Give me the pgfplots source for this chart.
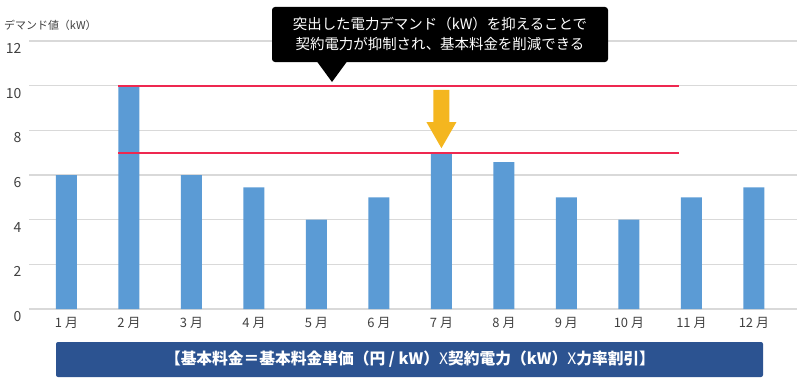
\documentclass[border=0pt]{standalone}
\usepackage{pgfplots}
\pgfplotsset{compat=1.18}
\usepackage{fontspec}
\setmainfont{Noto Sans CJK JP}
\definecolor{barblue}{HTML}{5B9BD5}
\definecolor{limitred}{HTML}{EE2850}
\definecolor{gold}{HTML}{F4B61F}
\definecolor{darkblue}{HTML}{2C5391}
\definecolor{gridgray}{HTML}{D9D9D9}
\definecolor{labelgray}{HTML}{404040}
\begin{document}
\begin{tikzpicture}[x=1bp,y=1bp]
\useasboundingbox (0,0) rectangle (805,388);
\begin{axis}[
  at={(29bp,79bp)}, anchor=south west,
  scale only axis, width=768bp, height=268bp,
  xmin=0.4, xmax=12.69, ymin=0, ymax=12,
  ytick={0,2,4,6,8,10,12},
  extra y ticks={0,2,4,6,8,12},
  extra y tick labels={},
  extra y tick style={ymajorgrids=true, grid style={color=gridgray, line width=1.2pt}},
  xtick={1,2,3,4,5,6,7,8,9,10,11,12},
  xticklabels={1 月,2 月,3 月,4 月,5 月,6 月,7 月,8 月,9 月,10 月,11 月,12 月},
  axis line style={draw=none},
  ymajorgrids=false,
  major tick length=0pt,
  /pgf/number format/assume math mode=true,
  yticklabel style={font=\fontsize{14}{16}\selectfont, text=labelgray, anchor=east, xshift=-4bp, yshift=-7.5bp},
  xticklabel style={font=\fontsize{13}{15}\selectfont, text=labelgray, anchor=center, yshift=-14bp},
  clip=false,
]
\addplot[draw=gridgray, line width=1.2pt, mark=none] coordinates {(0.4,10) (1.83,10)};
\addplot[draw=gridgray, line width=1.2pt, mark=none] coordinates {(10.8,10) (12.69,10)};
\addplot[ybar, bar width=21bp, fill=barblue, draw=none] coordinates {
(1,6) (2,10) (3,6) (4,5.45) (5,4) (6,5) (7,7) (8,6.58) (9,5) (10,4) (11,5) (12,5.45)};
\fill[gold] (axis cs:6.872,9.81) -- (axis cs:7.128,9.81) -- (axis cs:7.128,8.37) -- (axis cs:7.24,8.37)
  -- (axis cs:7,7.2) -- (axis cs:6.76,8.37) -- (axis cs:6.872,8.37) -- cycle;
\addplot[draw=limitred, line width=1.8pt, mark=none] coordinates {(1.83,7) (10.8,7)};
\addplot[draw=limitred, line width=1.8pt, mark=none] coordinates {(1.83,10) (10.8,10)};
\end{axis}
% y axis title
\node[anchor=west, inner sep=0, text=labelgray, font=\fontsize{11}{13}\selectfont] at (4,363) {デマンド値（kW）};
% callout
\fill[black, rounded corners=3] (272,326) rectangle (608,381);
\fill[black] (317,326.5) -- (347,326.5) -- (332,306) -- cycle;
\node[align=center, text=white, font=\fontsize{14.5}{20}\selectfont] at (440,354) {突出した電力デマンド（kW）を抑えることで\\契約電力が抑制され、基本料金を削減できる};
% bottom formula box
\fill[darkblue, rounded corners=2] (56,11) rectangle (763,46);
\node[text=white, font=\fontsize{15.8}{18}\selectfont\bfseries] at (410,29) {【基本料金＝基本料金単価（円 / kW）{\mdseries X}契約電力（kW）{\mdseries X}力率割引】};
\end{tikzpicture}
\end{document}
